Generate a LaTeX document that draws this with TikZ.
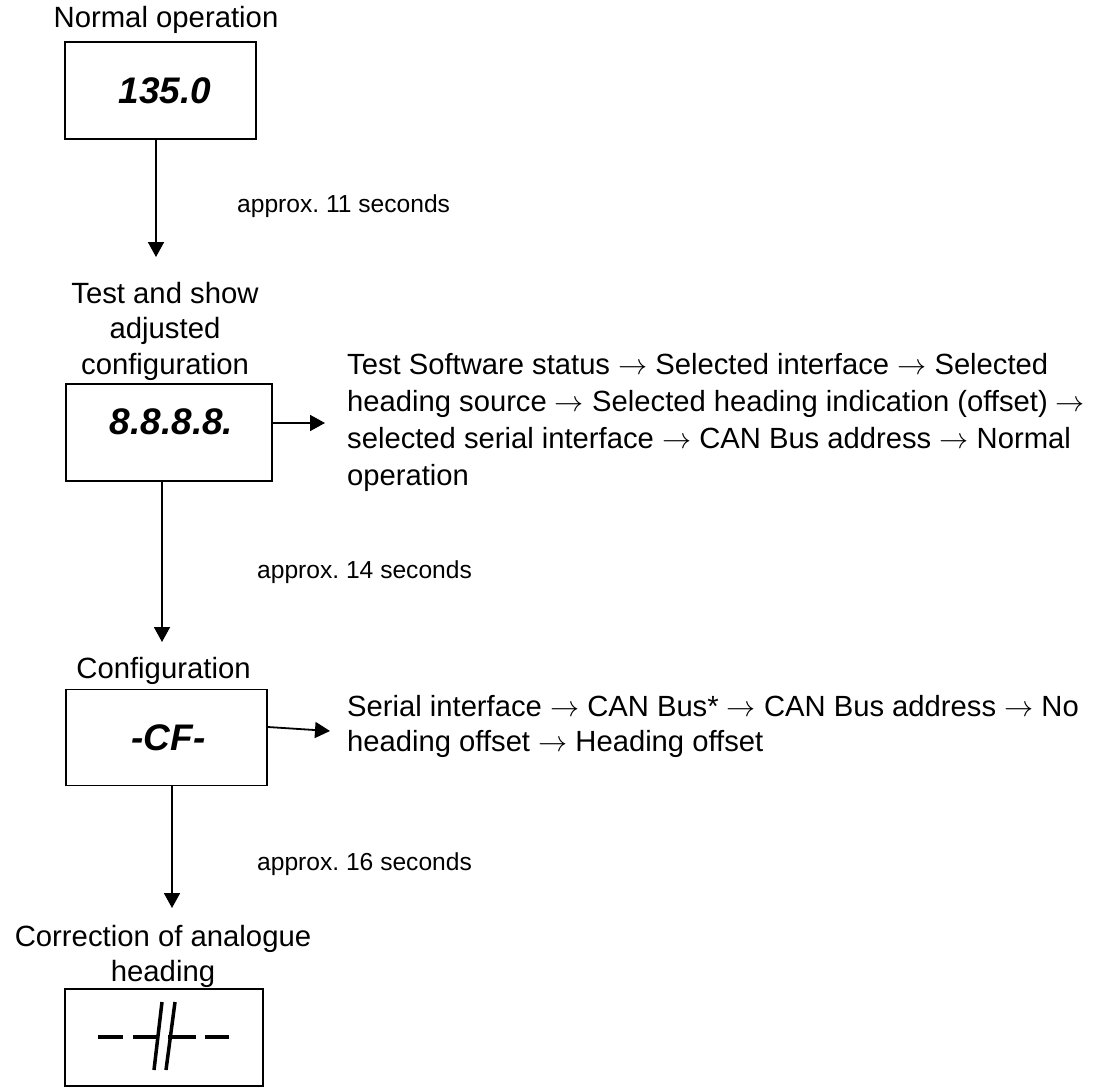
\documentclass[tikz,border=0pt]{standalone}
\usepackage{fontspec}
\setmainfont{Liberation Sans}
\usetikzlibrary{arrows.meta}
\frenchspacing

% long thin arrow between the steps
\newcommand{\nxt}{\scalebox{1.17}{$\rightarrow$}}

\tikzset{
  box/.style={draw, line width=1.8pt, inner sep=0pt, font=\fontsize{37}{40}\selectfont\bfseries\itshape},
  flow/.style={line width=1.8pt, -{Triangle[width=16pt,length=15pt]}},
  caption/.style={inner sep=0pt, align=center, font=\fontsize{29.3}{35.5}\selectfont},
  steps/.style={inner sep=0pt, align=left, anchor=north west, font=\fontsize{29.2}{37}\selectfont},
  delay/.style={inner sep=0pt, anchor=base west, font=\fontsize{24.6}{28}\selectfont},
}

\begin{document}
\begin{tikzpicture}[x=1pt, y=-1pt]
  \useasboundingbox (0,0) rectangle (1099,1086);

  % normal operation
  \node[caption, anchor=base] (lnorm) at (166,28) {Normal operation};
  \node[box, minimum width=191pt, minimum height=97pt] (box1) at (160.5,90.5) {\hspace*{9pt}135.0};

  % test and show
  \node[caption, anchor=north] (ltest) at (165,282) {Test and show\\adjusted\\configuration};
  \node[box, minimum width=206pt, minimum height=97pt, text depth=22pt] (box2) at (169,432.5) {\hspace*{5pt}8.8.8.8.};
  \node[steps] (seq1) at (347,353) {Test Software status \nxt{} Selected interface \nxt{} Selected\\
    heading source \nxt{} Selected heading indication (offset) \nxt\\
    selected serial interface \nxt{} CAN Bus address \nxt{} Normal\\
    operation};

  % configuration
  \node[caption, anchor=base] (lconf) at (163.5,678) {Configuration};
  \node[box, minimum width=201pt, minimum height=96pt] (box3) at (166.5,737.5) {\hspace*{4pt}-CF-};
  \node[steps, font=\fontsize{29.2}{35}\selectfont] (seq2) at (347,695) {Serial interface \nxt{} CAN Bus* \nxt{} CAN Bus address \nxt{} No\\
    heading offset \nxt{} Heading offset};

  % correction of analogue heading
  \node[caption, anchor=north] (lcorr) at (163,925) {Correction of analogue\\heading};
  \node[box, minimum width=198pt, minimum height=97pt] (box4) at (164,1037.5) {};
  \foreach \a/\b in {98/123, 133/158, 168/196, 205/229}
    \draw[line width=4pt] (\a,1037) -- (\b,1037);
  \draw[line width=3.5pt] (162,1002) -- (154,1070);
  \draw[line width=3.5pt] (175,1002) -- (166,1070);

  % delays
  \node[delay] (d1) at (237,212) {approx. 11 seconds};
  \node[delay] (d2) at (257,578) {approx. 14 seconds};
  \node[delay] (d3) at (257,870) {approx. 16 seconds};

  % arrows
  \coordinate (t1) at (156,257);
  \coordinate (t2) at (162,642);
  \coordinate (t3) at (172,908);
  \coordinate (s1) at (325,423);
  \coordinate (s2) at (330,731);
  \draw[flow] (box1.south -| t1) -- (t1);
  \draw[flow] (box2.south -| t2) -- (t2);
  \draw[flow] (box3.south -| t3) -- (t3);
  \draw[flow] (box2.east |- s1) -- (s1);
  \draw[flow] ([yshift=10.5pt]box3.east) -- (s2);

\end{tikzpicture}
\end{document}
